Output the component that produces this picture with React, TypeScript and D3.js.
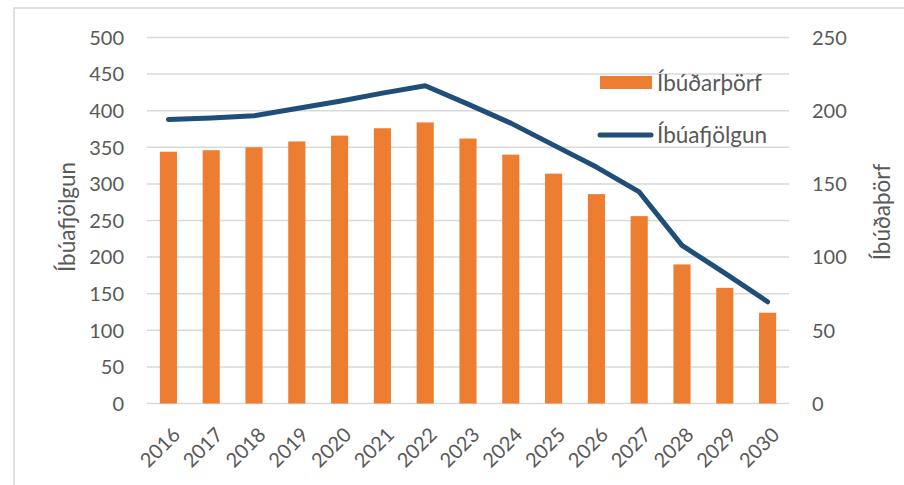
import React from 'react';
import * as d3 from 'd3';

const years = ['2016', '2017', '2018', '2019', '2020', '2021', '2022', '2023', '2024', '2025', '2026', '2027', '2028', '2029', '2030'];
// Íbúðarþörf (bars, right axis)
const housingNeed = [172, 173, 175, 179, 183, 188, 192, 181, 170, 157, 143, 128, 95, 79, 62];
// Íbúafjölgun (line, left axis)
const popGrowth = [388, 390, 393, 403, 413, 424, 434, 409, 383, 353, 323, 289, 216, 178, 139];
const leftTicks = [0, 50, 100, 150, 200, 250, 300, 350, 400, 450, 500];
const rightTicks = [0, 50, 100, 150, 200, 250];

const W = 904;
const H = 485;
const plot = { left: 147, right: 789, top: 37.5, bottom: 403.5 };
const font = 'Lato, "Open Sans", sans-serif';
const textColor = '#595959';

const App: React.FC = () => {
  const x = d3.scaleBand<string>()
    .domain(years)
    .range([plot.left, plot.right])
    .paddingInner(0.6)
    .paddingOuter(0.3);
  const yLeft = d3.scaleLinear().domain([0, 500]).range([plot.bottom, plot.top]);
  const yRight = d3.scaleLinear().domain([0, 250]).range([plot.bottom, plot.top]);
  const cx = (d: string) => (x(d) || 0) + x.bandwidth() / 2;

  const line = d3.line<number>()
    .x((_, i) => cx(years[i]))
    .y(d => yLeft(d));

  return (
    <svg width={W} height={H} style={{ position: 'absolute', left: 0, top: 0, background: '#fff' }}>
      <rect x={14} y={8} width={W} height={H} fill="none" stroke="#d9d9d9" strokeWidth={1.5} />

      {/* gridlines */}
      {leftTicks.map(t => (
        <line key={t} x1={plot.left} x2={plot.right} y1={yLeft(t)} y2={yLeft(t)} stroke="#d9d9d9" strokeWidth={1.5} />
      ))}

      {/* bars */}
      {years.map((yr, i) => (
        <rect key={yr} x={x(yr)} y={yRight(housingNeed[i])} width={x.bandwidth()}
          height={yRight(0) - yRight(housingNeed[i])} fill="#ED7D31" />
      ))}

      {/* line */}
      <path d={line(popGrowth) || ''} fill="none" stroke="#1F4E79" strokeWidth={5}
        strokeLinecap="round" strokeLinejoin="round" />

      {/* left axis */}
      {leftTicks.map(t => (
        <text key={t} x={124} y={yLeft(t)} dy="0.36em" textAnchor="end" fontFamily={font} fontSize={20} fill={textColor}>{t}</text>
      ))}
      {/* right axis */}
      {rightTicks.map(t => (
        <text key={t} x={812} y={yRight(t)} dy="0.36em" textAnchor="start" fontFamily={font} fontSize={20} fill={textColor}>{t}</text>
      ))}

      {/* x labels */}
      {years.map(yr => (
        <text key={yr} transform={`translate(${cx(yr) + 13},${436}) rotate(-45)`} textAnchor="end"
          fontFamily={font} fontSize={20} fill={textColor}>{yr}</text>
      ))}

      {/* axis titles */}
      <text transform="translate(75,217) rotate(-90)" textAnchor="middle" fontFamily={font} fontSize={22.5} fill={textColor}>Íbúafjölgun</text>
      <text transform="translate(890,212) rotate(-90)" textAnchor="middle" fontFamily={font} fontSize={22.5} fill={textColor}>Íbúðaþörf</text>

      {/* legend */}
      <rect x={600} y={76} width={52} height={13} fill="#ED7D31" />
      <text x={657} y={83} dy="0.36em" fontFamily={font} fontSize={22.5} fill={textColor}>Íbúðarþörf</text>
      <line x1={600} x2={651} y1={135} y2={135} stroke="#1F4E79" strokeWidth={5} strokeLinecap="round" />
      <text x={657} y={135} dy="0.36em" fontFamily={font} fontSize={22.5} fill={textColor}>Íbúafjölgun</text>
    </svg>
  );
};

export default App;
